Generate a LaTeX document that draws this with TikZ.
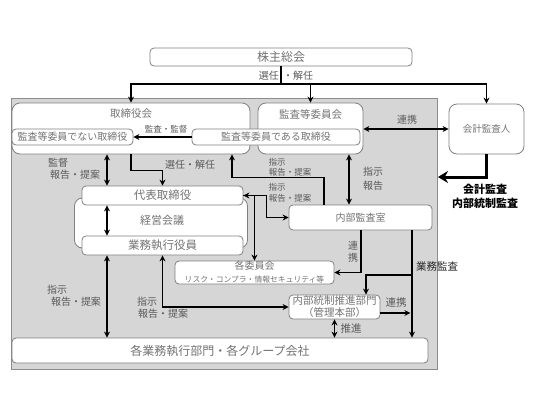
\documentclass[tikz,border=0pt]{standalone}
\usepackage{fontspec}
\setmainfont{Noto Sans CJK JP}
\usetikzlibrary{arrows.meta}
\newcommand{\fsz}[1]{\fontsize{#1}{#1}\selectfont}
\tikzset{
  box/.style={draw=black!50, fill=white, rounded corners=4pt, line width=0.8pt, inner sep=0pt, text=black!55},
  bigbox/.style={box, rounded corners=8pt},
  lbl/.style={inner sep=0pt, text=black!65, font=\fsz{10}},
  sml/.style={inner sep=0pt, text=black!65, font=\fsz{8.5}},
  arr/.style={-{Stealth[length=6pt,width=6pt]}, line width=1.3pt},
  dbl/.style={{Stealth[length=6pt,width=6pt]}-{Stealth[length=6pt,width=6pt]}, line width=1.3pt},
}
\begin{document}
\begin{tikzpicture}[x=1pt,y=-1pt]
\useasboundingbox (0,0) rectangle (536,402);

\node[draw=black!45, fill=black!16, line width=0.8pt, inner sep=0pt, minimum width=426pt, minimum height=271pt] (bg) at (224,233.5) {};

\node[box, minimum width=262pt, minimum height=18pt, font=\fsz{12}] (kabu) at (281,57) {株主総会};

\node[bigbox, minimum width=238pt, minimum height=51pt] (tori) at (131,128.5) {};
\node[inner sep=0pt, text=black!55, font=\fsz{10.5}] (toritxt) at (131,114) {取締役会};
\node[bigbox, minimum width=105pt, minimum height=51pt] (kansa) at (310.5,128.5) {};
\node[inner sep=0pt, text=black!55, font=\fsz{10.5}] (kansatxt) at (310.5,114) {監査等委員会};
\node[box, minimum width=121pt, minimum height=16pt, font=\fsz{10}] (nai) at (72.5,137) {監査等委員でない取締役};
\node[box, minimum width=168pt, minimum height=16pt, font=\fsz{10}] (aru) at (276,137) {監査等委員である取締役};
\node[bigbox, minimum width=75pt, minimum height=50pt, font=\fsz{9.5}] (kaikei) at (486.5,129) {会計監査人};

\node[bigbox, minimum width=173pt, minimum height=50pt] (keiei) at (161,223) {};
\node[inner sep=0pt, text=black!55, font=\fsz{11}] (keieitxt) at (162,220) {経営会議};
\node[box, minimum width=161pt, minimum height=19pt, font=\fsz{11.5}] (daihyo) at (162.5,195.5) {代表取締役};
\node[box, minimum width=161pt, minimum height=19pt, font=\fsz{11.5}] (gyomu) at (162.5,245.5) {業務執行役員};

\node[box, minimum width=143pt, minimum height=25pt, font=\fsz{10}] (naibu) at (360.5,217.5) {内部監査室};
\node[box, minimum width=159pt, minimum height=23pt, align=center] (kakuiin) at (254.5,272.5)
  {{\fsz{10}各委員会}\\[1pt]{\fsz{7.8}リスク・コンプラ・情報セキュリティ等}};
\node[box, minimum width=91pt, minimum height=24pt, align=center, font=\fsz{10.5}] (tousei) at (334.5,307)
  {内部統制推進部門\\[1.5pt]（管理本部）};
\node[box, minimum width=416pt, minimum height=25pt, font=\fsz{12}] (kaku) at (220,350.5) {各業務執行部門・各グループ会社};

\coordinate (sel) at (281,84);
\coordinate (ca) at (107,0);
\coordinate (cc) at (232,0);
\coordinate (cf) at (324,0);
\coordinate (cg) at (349,0);
\coordinate (ch) at (361,0);
\coordinate (ci) at (366,0);
\coordinate (cj) at (412,0);
\coordinate (br) at (412,275);
\coordinate (audit) at (438,177);

\draw[line width=1.3pt] (kabu.south) -- (sel);
\draw[arr] (sel) -| (tori.north);
\draw[arr] (sel) -| (kansa.north);
\draw[arr] (sel) -| (kaikei.north);
\node[lbl, anchor=east] (sen1) at (279,76) {選任};
\node[lbl, anchor=west] (sen2) at (283,76) {・解任};

\draw[arr] (aru.west) -- (nai.east);
\node[sml] (kansakantoku) at (166,129) {監査・監督};

\draw[dbl] (kaikei.west) -- (kaikei.west -| kansa.east);
\node[lbl] (renkei1) at (407,120) {連携};

\draw[-{Stealth[length=10pt,width=12pt]}, line width=3pt] (kaikei.south) |- (audit);
\node[inner sep=0pt, font=\fsz{11}\bfseries] (kaikeik) at (485,189) {会計監査};
\node[inner sep=0pt, font=\fsz{11}\bfseries] (toseik) at (485,203) {内部統制監査};

\draw[dbl] (tori.south -| ca) -- (daihyo.north -| ca);
\node[lbl] (kantoku) at (58,163) {監督};
\node[lbl] (hokoku1) at (75,175) {報告・提案};

\draw[arr] (tori.south) -- ++(0,16) -| (daihyo.north);
\node[lbl] (sen3) at (190,165) {選任・解任};

\draw[arr] (naibu.north -| cf) -- ++(0,-27) -| (tori.south -| cc);
\node[sml] (shiji1) at (277,162) {指示};
\node[sml] (hokoku2) at (290,172) {報告・提案};

\draw[dbl] (daihyo.east) -| (kakuiin.north);
\draw[arr] (daihyo.east) -- ++(23,0) |- (naibu.west);
\node[sml] (shiji2) at (277,187) {指示};
\node[sml] (hokoku3) at (290,198) {報告・提案};

\draw[dbl] (kansa.south -| cg) -- (naibu.north -| cg);
\node[lbl] (shiji3) at (373,172) {指示};
\node[lbl] (hokoku4) at (373,186) {報告};

\draw[dbl] (daihyo.south -| ca) -- (gyomu.north -| ca);

\draw[arr] (naibu.south -| ch) |- (kakuiin.east);
\node[lbl, align=center] (renkei2) at (353,251.5) {連\\[2pt]携};

\draw[arr] (naibu.south -| cj) -- (kaku.north -| cj);
\draw[arr] (br) -| (tousei.north -| ci);
\node[inner sep=0pt, text=black!85, font=\fsz{10.5}] (gyomukansa) at (437,267) {業務監査};

\draw[arr] ([yshift=-6pt]tousei.east) -- ++(30,0);
\node[lbl, font=\fsz{10.5}] (renkei3) at (396,303) {連携};

\draw[dbl] (tousei.south) -- (kaku.north -| tousei.south);
\node[lbl, font=\fsz{10.5}] (suishin) at (351,328) {推進};

\draw[dbl] (gyomu.south -| ca) -- (kaku.north -| ca);
\node[lbl] (shiji4) at (57,290) {指示};
\node[lbl] (hokoku5) at (76,302) {報告・提案};

\draw[dbl] (gyomu.south) |- (tousei.west);
\node[lbl] (shiji5) at (147,302) {指示};
\node[lbl] (hokoku6) at (163,314) {報告・提案};

\end{tikzpicture}
\end{document}
